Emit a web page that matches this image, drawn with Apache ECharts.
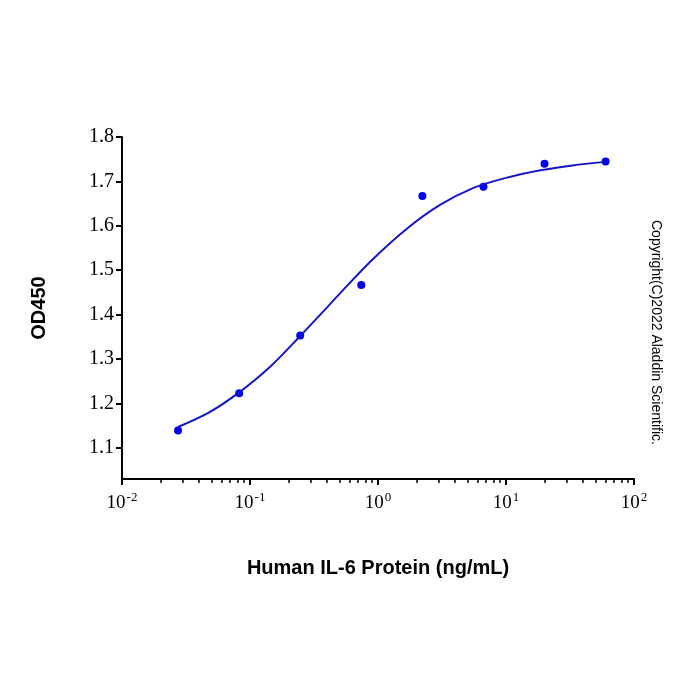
<!DOCTYPE html>
<html>
<head>
<meta charset="utf-8">
<script src="https://cdn.jsdelivr.net/npm/echarts@6/dist/echarts.min.js"></script>
<style>html,body{margin:0;padding:0;background:#fff}#c{width:700px;height:700px}</style>
</head>
<body>
<div id="c"></div>
<script>
var concentrations = [0.0274, 0.0823, 0.2469, 0.7407, 2.222, 6.667, 20, 60];
var od450 = [1.139, 1.223, 1.353, 1.467, 1.667, 1.688, 1.740, 1.745];
var curveX = [0.0274, 0.048, 0.0823, 0.143, 0.2469, 0.414, 0.505, 0.89, 1.69, 3.05, 5.52, 10, 18.6, 33.1, 60];
var curveY = [1.147, 1.180, 1.225, 1.282, 1.352, 1.421, 1.448, 1.522, 1.594, 1.647, 1.685, 1.708, 1.725, 1.736, 1.744];
var xMajorTicks = [0.01, 0.1, 1, 10, 100];
var xMajorExp = ['-2', '-1', '0', '1', '2'];
var xMinorTicks = [];
[0.01, 0.1, 1, 10].forEach(function (d) { for (var k = 2; k <= 9; k++) xMinorTicks.push(+(d * k).toPrecision(3)); });
var yTicks = [1.1, 1.2, 1.3, 1.4, 1.5, 1.6, 1.7, 1.8];

var chart = echarts.init(document.getElementById('c'));
var serif = '"Liberation Serif", "Times New Roman", serif';
var sans = '"Liberation Sans", Arial, sans-serif';
chart.setOption({
  animation: false,
  backgroundColor: '#fff',
  grid: { left: 122, right: 66, top: 137, bottom: 221 },
  xAxis: [{
    type: 'log', logBase: 10, min: 0.01, max: 100,
    axisLine: { lineStyle: { color: '#000', width: 2 } },
    axisTick: { show: true, inside: false, length: 6, lineStyle: { color: '#000', width: 2 }, customValues: xMajorTicks },
    axisLabel: {
      customValues: xMajorTicks, margin: 12,
      formatter: function (v) {
        var i = xMajorTicks.findIndex(function (t) { return Math.abs(Math.log10(t) - Math.log10(v)) < 1e-6; });
        return '{b|10}{s|' + (i >= 0 ? xMajorExp[i] : '') + '}';
      },
      rich: {
        b: { fontFamily: serif, fontSize: 19, color: '#000', lineHeight: 24 },
        s: { fontFamily: serif, fontSize: 13, color: '#000', lineHeight: 24, padding: [0, 0, 10, 1] }
      }
    },
    splitLine: { show: false },
    name: 'Human IL-6 Protein (ng/mL)', nameLocation: 'middle', nameGap: 79,
    nameTextStyle: { fontFamily: sans, fontWeight: 'bold', fontSize: 20, color: '#000' }
  }, {
    type: 'log', logBase: 10, min: 0.01, max: 100, position: 'bottom',
    axisLine: { show: false },
    axisTick: { show: true, length: 4, lineStyle: { color: '#000', width: 1.5 }, customValues: xMinorTicks },
    axisLabel: { show: false },
    splitLine: { show: false }
  }],
  yAxis: {
    type: 'value', min: 1.03, max: 1.8,
    axisLine: { show: true, lineStyle: { color: '#000', width: 2 } },
    axisTick: { show: true, length: 6, lineStyle: { color: '#000', width: 2 }, customValues: yTicks },
    axisLabel: { customValues: yTicks, fontFamily: serif, fontSize: 20, color: '#000', margin: 8,
      formatter: function (v) { return v.toFixed(1); } },
    splitLine: { show: false },
    name: 'OD450', nameLocation: 'middle', nameRotate: 90, nameGap: 73,
    nameTextStyle: { fontFamily: sans, fontWeight: 'bold', fontSize: 20, color: '#000' }
  },
  series: [{
    type: 'line', xAxisIndex: 0,
    data: curveX.map(function (x, i) { return [x, curveY[i]]; }),
    smooth: 0.3, showSymbol: false, symbol: 'none',
    lineStyle: { color: '#1414c8', width: 2 }
  }, {
    type: 'scatter', xAxisIndex: 0,
    data: concentrations.map(function (x, i) { return [x, od450[i]]; }),
    symbol: 'circle', symbolSize: 8,
    itemStyle: { color: '#0000ee', opacity: 1 }
  }],
  graphic: [{
    type: 'text', left: 649, top: 220, rotation: -Math.PI / 2,
    style: { text: 'Copyright(C)2022 Aladdin Scientific.', font: '14px ' + sans, fill: '#000' }
  }]
});
</script>
</body>
</html>
